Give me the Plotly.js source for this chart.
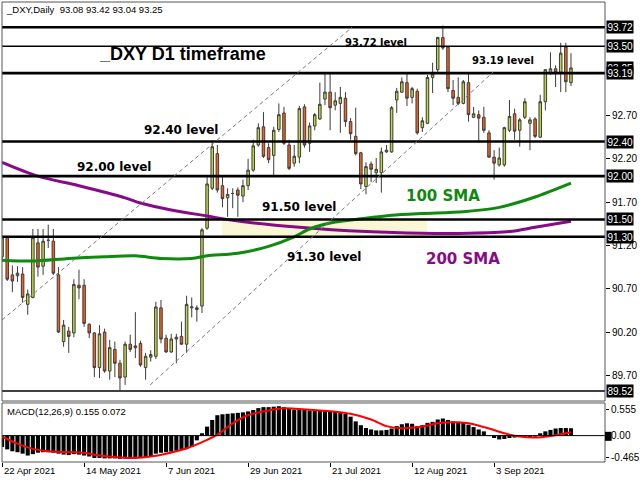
<!DOCTYPE html>
<html><head><meta charset="utf-8">
<script src="https://cdn.plot.ly/plotly-3.0.1.min.js"></script>
<style>html,body{margin:0;padding:0;background:#fff}#chart{width:640px;height:480px}</style>
</head><body><div id="chart"></div>
<script>
// ---- data ----
const dates = [
'2021-04-22','2021-04-23','2021-04-26','2021-04-27','2021-04-28','2021-04-29','2021-04-30',
'2021-05-03','2021-05-04','2021-05-05','2021-05-06','2021-05-07','2021-05-10','2021-05-11','2021-05-12','2021-05-13','2021-05-14',
'2021-05-17','2021-05-18','2021-05-19','2021-05-20','2021-05-21','2021-05-24','2021-05-25','2021-05-26','2021-05-27','2021-05-28','2021-05-31',
'2021-06-01','2021-06-02','2021-06-03','2021-06-04','2021-06-07','2021-06-08','2021-06-09','2021-06-10','2021-06-11',
'2021-06-14','2021-06-15','2021-06-16','2021-06-17','2021-06-18','2021-06-21','2021-06-22','2021-06-23','2021-06-24','2021-06-25',
'2021-06-28','2021-06-29','2021-06-30',
'2021-07-01','2021-07-02','2021-07-05','2021-07-06','2021-07-07','2021-07-08','2021-07-09','2021-07-12','2021-07-13','2021-07-14','2021-07-15','2021-07-16',
'2021-07-19','2021-07-20','2021-07-21','2021-07-22','2021-07-23','2021-07-26','2021-07-27','2021-07-28','2021-07-29','2021-07-30',
'2021-08-02','2021-08-03','2021-08-04','2021-08-05','2021-08-06','2021-08-09','2021-08-10','2021-08-11','2021-08-12','2021-08-13',
'2021-08-16','2021-08-17','2021-08-18','2021-08-19','2021-08-20','2021-08-23','2021-08-24','2021-08-25','2021-08-26','2021-08-27',
'2021-08-30','2021-08-31',
'2021-09-01','2021-09-02','2021-09-03','2021-09-06','2021-09-07','2021-09-08','2021-09-09','2021-09-10',
'2021-09-13','2021-09-14','2021-09-15','2021-09-16','2021-09-17','2021-09-20','2021-09-21','2021-09-22','2021-09-23','2021-09-24'];

const openP = [91.07,91.29,90.86,90.85,90.87,90.52,90.60,91.23,90.96,91.26,91.25,90.86,90.09,90.21,90.19,90.74,90.74,90.29,90.19,89.79,
90.20,89.75,90.00,89.84,89.68,90.06,90.02,90.07,89.79,89.91,89.92,90.48,90.13,89.97,90.12,90.15,90.06,90.48,90.46,90.50,
91.40,91.86,92.26,91.89,91.75,91.80,91.84,91.77,91.89,92.07,92.36,92.57,92.33,92.24,92.54,92.73,92.36,92.15,92.22,92.80,
92.38,92.58,92.66,92.89,92.97,92.82,92.84,92.90,92.63,92.46,92.27,91.88,92.14,92.04,92.04,92.28,92.28,92.88,92.97,93.08,
92.91,92.98,92.56,92.61,93.14,93.23,93.60,93.49,92.99,92.91,92.84,93.08,92.68,92.71,92.68,92.50,92.22,92.13,92.13,92.53,
92.72,92.53,92.68,92.61,92.66,92.45,92.86,93.20,93.24,93.20,93.49,93.08];
const highP = [91.31,91.31,90.97,90.96,90.95,90.69,91.39,91.39,91.39,91.44,91.39,90.95,90.34,90.26,90.81,90.92,90.81,90.30,90.20,90.28,
90.24,90.11,90.09,89.88,90.09,90.17,90.43,90.10,89.96,89.99,90.55,90.57,90.17,90.18,90.18,90.32,90.62,90.60,90.51,91.40,
91.99,92.39,92.36,91.99,91.86,91.86,91.87,91.96,92.20,92.42,92.61,92.74,92.38,92.57,92.84,92.80,92.42,92.36,92.81,92.83,
92.62,92.73,93.08,93.19,93.19,92.97,93.03,92.97,92.67,92.79,92.28,92.16,92.17,92.21,92.33,92.36,92.81,93.02,93.14,93.19,
93.03,93.01,92.68,93.17,93.31,93.61,93.74,93.49,93.11,93.14,93.11,93.19,92.80,92.76,92.80,92.53,92.30,92.33,92.57,92.88,
92.78,92.67,92.90,92.68,92.68,92.94,93.23,93.43,93.28,93.54,93.54,93.42];
const lowP = [91.01,90.79,90.66,90.78,90.54,90.40,90.59,90.84,90.86,91.17,90.86,90.19,90.03,89.96,90.14,90.58,90.26,90.13,89.68,89.67,
89.73,89.65,89.68,89.53,89.59,89.97,89.90,89.80,89.65,89.86,89.89,90.07,89.96,89.96,89.84,90.05,89.96,90.37,90.32,90.42,
91.38,91.84,91.81,91.64,91.53,91.63,91.53,91.70,91.84,92.05,92.34,92.21,92.15,91.99,92.51,92.36,92.07,92.11,92.15,92.33,
92.28,92.53,92.65,92.82,92.53,92.76,92.50,92.57,92.42,92.24,91.85,91.79,91.93,91.92,91.81,92.27,92.27,92.73,92.96,92.81,
92.84,92.48,92.51,92.60,92.96,93.20,93.46,92.97,92.82,92.82,92.83,92.63,92.67,92.39,92.50,92.21,91.96,92.11,92.11,92.51,
92.42,92.34,92.66,92.30,92.44,92.44,92.76,93.17,93.03,92.97,92.97,93.04];
const closeP = [91.29,90.81,90.79,90.88,90.60,90.64,91.29,90.95,91.25,91.26,90.88,90.20,90.28,90.15,90.75,90.71,90.30,90.19,89.79,90.18,
89.75,90.02,89.84,89.67,90.06,90.00,90.04,89.82,89.92,89.94,90.49,90.12,89.97,90.12,90.14,90.06,90.52,90.49,90.48,91.38,
91.91,92.34,91.84,91.74,91.79,91.80,91.78,91.89,92.07,92.35,92.56,92.23,92.19,92.53,92.71,92.38,92.09,92.23,92.78,92.36,
92.58,92.71,92.83,92.97,92.79,92.87,92.91,92.63,92.49,92.26,91.91,92.11,92.08,92.08,92.28,92.30,92.79,92.98,93.09,92.90,
93.01,92.50,92.64,93.14,93.18,93.60,93.48,93.01,92.90,92.84,93.09,92.71,92.72,92.67,92.53,92.22,92.15,92.21,92.56,92.69,
92.52,92.65,92.86,92.65,92.46,92.86,93.23,93.24,93.20,93.42,93.09,93.25];

// moving averages (read at selected bars)
const sma100Bars = [0,6,13,20,26,31,37,40,46,52,57,60,65,69,76,82,90,97,104,111];
const sma100 = [91.03,91.02,91.05,91.07,91.08,91.05,91.05,91.08,91.11,91.19,91.30,91.39,91.47,91.50,91.55,91.57,91.59,91.64,91.76,91.92];
const sma200Bars = [0,7,15,24,27,33,40,45,58,71,82,91,99,104,111];
const sma200 = [92.16,92.00,91.89,91.75,91.69,91.61,91.54,91.49,91.41,91.36,91.34,91.34,91.36,91.41,91.48];

// MACD main (histogram), one per bar
const macd = [-0.24,-0.29,-0.33,-0.35,-0.38,-0.42,-0.39,-0.36,-0.35,-0.35,-0.36,-0.38,-0.40,-0.41,-0.39,-0.40,-0.42,-0.44,-0.47,-0.47,
-0.48,-0.48,-0.48,-0.49,-0.48,-0.47,-0.46,-0.46,-0.45,-0.43,-0.38,-0.36,-0.35,-0.34,-0.32,-0.30,-0.27,-0.24,-0.10,0.05,
0.19,0.33,0.43,0.45,0.46,0.47,0.48,0.49,0.51,0.54,0.58,0.60,0.60,0.61,0.62,0.60,0.58,0.55,0.55,0.54,
0.53,0.53,0.53,0.52,0.51,0.50,0.49,0.46,0.40,0.30,0.22,0.16,0.13,0.11,0.11,0.12,0.15,0.20,0.24,0.26,
0.25,0.20,0.22,0.27,0.29,0.34,0.36,0.33,0.30,0.29,0.27,0.23,0.18,0.13,0.09,-0.01,-0.05,-0.08,-0.07,-0.05,
-0.04,-0.03,-0.02,-0.03,-0.02,0.05,0.09,0.12,0.15,0.16,0.16,0.155];
const signalBars = [0,3,6,9,13,16,19,23,26,29,32,36,40,42,45,48,52,55,58,62,65,68,72,75,78,82,85,88,91,95,98,101,104,108,111];
const signal = [-0.02,-0.17,-0.28,-0.33,-0.35,-0.36,-0.42,-0.46,-0.47,-0.44,-0.38,-0.27,-0.09,0.02,0.26,0.43,0.53,0.575,0.56,0.53,
0.505,0.46,0.34,0.20,0.155,0.19,0.26,0.28,0.26,0.15,0.05,-0.02,-0.04,0.01,0.072];

// horizontal levels
const levels = [93.72, 93.50, 93.19, 92.40, 92.00, 91.50, 91.30, 89.52];
const levelNames = ['93.72 level','93.19 level','92.40 level','92.00 level','91.50 level','91.30 level'];
const lastPrice = 93.25;
// channel lines: [bar, price]
const channelUpper = [[0, 90.34], [68.3, 93.72]];
const channelLower = [[28.9, 89.59], [95.8, 93.20]];
// shaded zone
const zoneBars = [42.9, 82.9];
const zonePrices = [91.30, 91.50];
// axis ticks
const priceTicks = [89.70, 90.20, 90.70, 91.20, 91.70, 92.20, 92.70];
const macdTicks = [0.555, 0, -0.465];
const macdTickText = ['0.555', '0.00', '-0.465'];
const tickDates = ['2021-04-22','2021-05-14','2021-06-07','2021-06-29','2021-07-21','2021-08-12','2021-09-03'];
const tickText = ['22 Apr 2021','14 May 2021','7 Jun 2021','29 Jun 2021','21 Jul 2021','12 Aug 2021','3 Sep 2021'];
const header = '_DXY,Daily  93.08 93.42 93.04 93.25';
const macdHeader = 'MACD(12,26,9) 0.155 0.072';

// ---- styles ----
const thinLevels = [93.50, 89.52];
const lvlFont = {family: 'DejaVu Sans', size: 12, color: '#000'};
const axFont = {family: 'Liberation Sans, Arial, sans-serif', size: 10, color: '#000'};
const xRange = [-0.02, 117.64];

const traces = [
  {type: 'candlestick', x: dates, open: openP, high: highP, low: lowP, close: closeP,
   xaxis: 'x', yaxis: 'y', whiskerwidth: 0, hoverinfo: 'skip',
   increasing: {line: {color: '#3c3c3c', width: 1}, fillcolor: '#BDD73C'},
   decreasing: {line: {color: '#3c3c3c', width: 1}, fillcolor: '#F2611D'}},
  {type: 'scatter', mode: 'lines', x: sma200Bars.map(i => dates[i]), y: sma200, xaxis: 'x', yaxis: 'y',
   line: {color: '#870A87', width: 3, shape: 'spline', smoothing: 0.8}, hoverinfo: 'skip'},
  {type: 'scatter', mode: 'lines', x: sma100Bars.map(i => dates[i]), y: sma100, xaxis: 'x', yaxis: 'y',
   line: {color: '#0E8A0E', width: 3, shape: 'spline', smoothing: 0.8}, hoverinfo: 'skip'},
  {type: 'bar', x: dates, y: macd, xaxis: 'x', yaxis: 'y2', marker: {color: '#000', line: {width: 0}}, hoverinfo: 'skip'},
  {type: 'scatter', mode: 'lines', x: signalBars.map(i => dates[i]), y: signal, xaxis: 'x', yaxis: 'y2',
   line: {color: '#FF0000', width: 2, shape: 'spline', smoothing: 0.8}, hoverinfo: 'skip'}
];

const shapes = [];
shapes.push({type: 'rect', xref: 'x', yref: 'y', x0: zoneBars[0], x1: zoneBars[1], y0: zonePrices[0], y1: zonePrices[1],
  fillcolor: '#FAF8D4', line: {width: 0}, layer: 'below'});
levels.forEach(p => shapes.push({type: 'line', xref: 'paper', yref: 'y', x0: 0, x1: 1, y0: p, y1: p,
  line: {color: '#000', width: thinLevels.includes(p) ? 1.5 : 2.6}}));
[channelUpper, channelLower].forEach(c => shapes.push({type: 'line', xref: 'x', yref: 'y',
  x0: c[0][0], y0: c[0][1], x1: c[1][0], y1: c[1][1], line: {color: '#7a7a7a', width: 1, dash: '4px,3px'}}));
shapes.push({type: 'line', xref: 'paper', yref: 'y2', x0: 0, x1: 1, y0: 0, y1: 0, line: {color: '#000', width: 1}});
shapes.push({type: 'rect', xref: 'paper', yref: 'y domain', x0: 0, x1: 1, y0: 0, y1: 1, line: {color: '#555', width: 1}});
shapes.push({type: 'rect', xref: 'paper', yref: 'y2 domain', x0: 0, x1: 1, y0: 0, y1: 1, line: {color: '#555', width: 1}});
shapes.push({type: 'rect', xref: 'paper', yref: 'y2', x0: 1.0, x1: 1.011, y0: -0.11, y1: 0.08, fillcolor: '#000', line: {width: 0}});

const P = (px, py) => ({x: (px - 2) / 603, y: (462 - py) / 460});
const ann = [];
function txt(text, px, py, font, xanchor) {
  const p = P(px, py);
  ann.push({xref: 'paper', yref: 'paper', x: p.x, y: p.y, text: text, showarrow: false,
    xanchor: xanchor || 'center', yanchor: 'middle', font: font});
}
txt(header, 4, 9, {family: 'Liberation Sans, Arial', size: 9.5, color: '#000'}, 'left');
txt('<b>_DXY D1 timeframe</b>', 182.5, 54, {family: 'Liberation Sans, Arial', size: 18, color: '#000'});
txt('<b>' + levelNames[0] + '</b>', 376, 42, Object.assign({}, lvlFont, {size: 10}));
txt('<b>' + levelNames[1] + '</b>', 503, 60, Object.assign({}, lvlFont, {size: 10}));
txt('<b>' + levelNames[2] + '</b>', 181, 130, lvlFont);
txt('<b>' + levelNames[3] + '</b>', 114, 166.5, lvlFont);
txt('<b>' + levelNames[4] + '</b>', 299, 207, lvlFont);
txt('<b>' + levelNames[5] + '</b>', 324, 257, lvlFont);
txt('<b>100 SMA</b>', 443, 196.5, {family: 'DejaVu Sans', size: 15, color: '#0E8A0E'});
txt('<b>200 SMA</b>', 463, 258.5, {family: 'DejaVu Sans', size: 15, color: '#870A87'});
txt(macdHeader, 5, 411, {family: 'Liberation Sans, Arial', size: 9.5, color: '#000'}, 'left');

// right-hand price boxes
function box(p) {
  ann.push({xref: 'paper', yref: 'y', x: 1, y: p, xanchor: 'left', yanchor: 'middle', xshift: 1,
    text: p.toFixed(2), showarrow: false, bgcolor: '#000', borderpad: 0.5,
    font: {family: 'Liberation Sans, Arial', size: 10, color: '#fff'}});
}
[93.72, 93.50, lastPrice, 93.19, 92.40, 92.00, 91.50, 91.30, 89.52].forEach(box);

// date labels (left-aligned at their tick, placed in paper units from the category index)
tickDates.forEach((d, i) => {
  const idx = dates.indexOf(d);
  ann.push({xref: 'paper', yref: 'paper', x: (idx - xRange[0]) / (xRange[1] - xRange[0]), y: 0, yshift: -1,
    xanchor: 'left', yanchor: 'top', text: tickText[i], showarrow: false,
    font: {family: 'Liberation Sans, Arial', size: 9.5, color: '#000'}});
});

const layout = {
  width: 640, height: 480, margin: {l: 2, r: 35, t: 2, b: 18},
  paper_bgcolor: '#fff', plot_bgcolor: '#fff', showlegend: false, bargap: 0.2,
  xaxis: {type: 'category', anchor: 'y2', range: xRange, showgrid: false, zeroline: false, showline: false,
    tickmode: 'array', tickvals: tickDates, ticks: 'outside', ticklen: 4, tickcolor: '#000', showticklabels: false,
    rangeslider: {visible: false}, fixedrange: true},
  yaxis: {domain: [0.1326, 1], range: [89.404, 94.011], side: 'right', anchor: 'x', tickmode: 'array',
    tickvals: priceTicks, tickformat: '.2f', ticks: 'outside', ticklen: 4, tickcolor: '#000',
    showgrid: false, zeroline: false, showline: false, tickfont: axFont, fixedrange: true},
  yaxis2: {domain: [0, 0.1283], range: [-0.556, 0.688], side: 'right', anchor: 'x', tickmode: 'array',
    tickvals: macdTicks, ticktext: macdTickText, ticks: 'outside', ticklen: 3, tickcolor: '#000',
    showgrid: false, zeroline: false, showline: false, tickfont: axFont, fixedrange: true},
  shapes: shapes, annotations: ann
};
Plotly.newPlot('chart', traces, layout, {displayModeBar: false, staticPlot: true});
</script></body></html>
